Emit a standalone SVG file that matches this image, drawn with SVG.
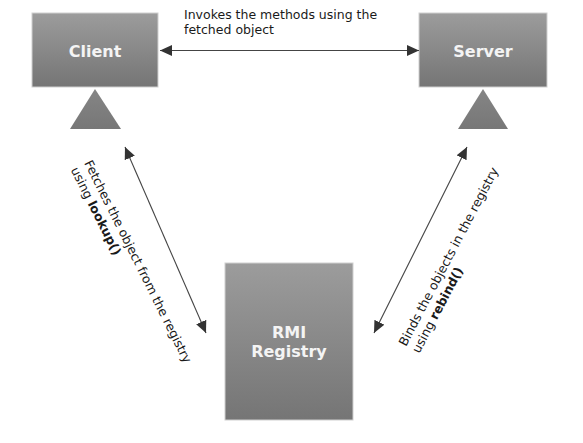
<svg xmlns="http://www.w3.org/2000/svg" width="583" height="443" viewBox="0 0 583 443">
<style>
.box{fill:url(#boxGrad);stroke:#cfcfcf;stroke-width:1}
.tri{fill:url(#triGrad)}
.title{font-family:"DejaVu Sans",Verdana,sans-serif;font-weight:bold;font-size:16px;fill:#f4f4f4;text-anchor:middle}
.lbl{font-family:"DejaVu Sans",Verdana,sans-serif;font-size:12.5px;fill:#1a1a1a}
.b{font-weight:bold}
.conn{stroke:#444;stroke-width:1.1;fill:none;marker-start:url(#arr);marker-end:url(#arr)}
</style>
<defs>
<linearGradient id="boxGrad" x1="0" y1="0" x2="0" y2="1">
<stop offset="0" stop-color="#9c9c9c"/>
<stop offset="1" stop-color="#757575"/>
</linearGradient>
<linearGradient id="triGrad" x1="0" y1="0" x2="0" y2="1">
<stop offset="0" stop-color="#858585"/>
<stop offset="1" stop-color="#777777"/>
</linearGradient>
<marker id="arr" viewBox="0 0 12 11" refX="12" refY="5.5" markerWidth="12" markerHeight="11" markerUnits="userSpaceOnUse" orient="auto-start-reverse">
<path d="M0,0 L12,5.5 L0,11 Z" fill="#333"/>
</marker>
</defs>
<rect width="583" height="443" fill="#ffffff"/>
<g id="client">
<rect class="box" x="32" y="13" width="126" height="74"/>
<text class="title" x="95" y="57">Client</text>
<polygon class="tri" points="95,89 121,129 70,129"/>
</g>
<g id="server">
<rect class="box" x="419" y="13" width="128" height="74"/>
<text class="title" x="483" y="57">Server</text>
<polygon class="tri" points="483,89 508,129 458,129"/>
</g>
<g id="rmi-registry">
<rect class="box" x="225" y="263" width="128" height="157"/>
<text class="title" x="289" y="338">RMI</text>
<text class="title" x="289" y="357">Registry</text>
</g>
<g id="connectors">
<line class="conn" x1="160" y1="50.5" x2="419" y2="50.5"/>
<line class="conn" x1="125" y1="147" x2="206" y2="333"/>
<line class="conn" x1="467" y1="147" x2="374" y2="333"/>
</g>
<g id="labels">
<text class="lbl" x="184" y="19">Invokes the methods using the</text>
<text class="lbl" x="184" y="34">fetched object</text>
<text class="lbl" transform="translate(84,163) rotate(63.5)"><tspan x="0" y="0">Fetches the object from the registry</tspan><tspan x="0" y="15">using <tspan class="b">lookup()</tspan></tspan></text>
<text class="lbl" transform="translate(406,347) rotate(-62.3)"><tspan x="0" y="0">Binds the objects in the registry</tspan><tspan x="0" y="15">using <tspan class="b">rebind()</tspan></tspan></text>
</g>
</svg>
